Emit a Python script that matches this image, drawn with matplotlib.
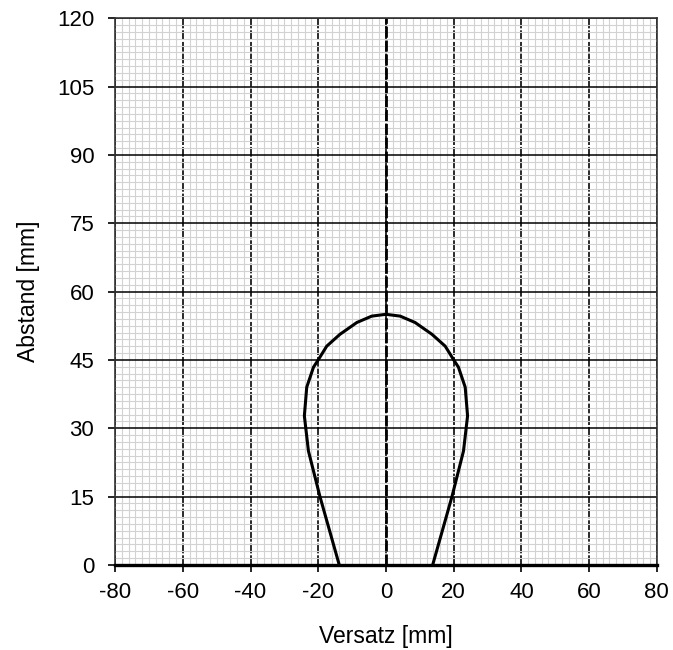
import numpy as np
import matplotlib.pyplot as plt
from matplotlib.ticker import MultipleLocator

plt.rcParams['font.family'] = ['Liberation Sans', 'DejaVu Sans']
plt.rcParams['axes.unicode_minus'] = False

# Erfassungsbereich (Versatz / Abstand)
versatz = [-13.8, -19.5, -22.9, -24.1, -23.4, -21.4, -20.0, -17.5, -13.6, -8.6, -4.2, 0.0,
           4.2, 8.6, 13.6, 17.5, 20.0, 21.4, 23.4, 24.1, 22.9, 19.5, 13.8]
abstand = [0.0, 15.0, 25.0, 32.7, 39.0, 43.4, 45.0, 48.0, 50.6, 53.2, 54.6, 55.0,
           54.6, 53.2, 50.6, 48.0, 45.0, 43.4, 39.0, 32.7, 25.0, 15.0, 0.0]

x_ticks = [-80, -60, -40, -20, 0, 20, 40, 60, 80]
y_ticks = [0, 15, 30, 45, 60, 75, 90, 105, 120]

fig = plt.figure(figsize=(6.73, 6.5), dpi=100)
ax = fig.add_axes([0.171, 0.131, 0.805, 0.841])

ax.set_xlim(-80, 80)
ax.set_ylim(0, 120)
ax.set_xticks(x_ticks)
ax.set_yticks(y_ticks)
ax.xaxis.set_minor_locator(MultipleLocator(2))
ax.yaxis.set_minor_locator(MultipleLocator(1.5))

ax.grid(which='minor', color='#d2d2d2', linewidth=0.8)
ax.grid(which='major', axis='y', color='black', linewidth=1.1)
ax.grid(which='major', axis='x', color='#2a2a2a', linewidth=1.4, linestyle=(0, (5, 1)))
ax.axvline(0, color='black', linewidth=2.0, linestyle=(0, (4, 1)))
ax.set_axisbelow(True)

ax.plot(versatz, abstand, color='black', linewidth=2.2, zorder=5)

for s in ['top', 'right', 'left']:
    ax.spines[s].set_color('#333333')
    ax.spines[s].set_linewidth(1.2)
ax.spines['bottom'].set_color('black')
ax.spines['bottom'].set_linewidth(2.4)

ax.tick_params(which='major', direction='out', length=5, width=1.2, labelsize=16)
ax.tick_params(axis='x', which='major', pad=7)
ax.tick_params(axis='y', which='major', pad=10)
ax.tick_params(which='minor', length=0)

ax.set_xlabel("Versatz [mm]", fontsize=16.5, labelpad=16)
ax.set_ylabel("Abstand [mm]", fontsize=16.5, labelpad=12)

fig.savefig("out.png", dpi=100)
